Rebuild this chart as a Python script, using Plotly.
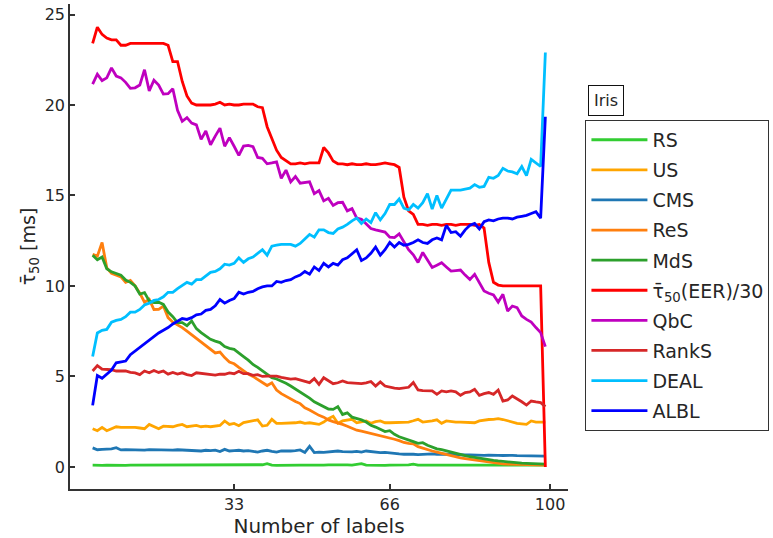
import plotly.graph_objects as go

n_labels = list(range(3, 100))

rs = [0.1, 0.08, 0.09, 0.1, 0.09, 0.1, 0.1, 0.09, 0.1, 0.1,
      0.09, 0.1, 0.1, 0.09, 0.1, 0.1, 0.1, 0.09, 0.1, 0.1,
      0.09, 0.1, 0.1, 0.1, 0.11, 0.1, 0.09, 0.1, 0.1, 0.1,
      0.09, 0.1, 0.1, 0.1, 0.11, 0.1, 0.12, 0.18, 0.1, 0.09,
      0.1, 0.1, 0.1, 0.11, 0.1, 0.1, 0.09, 0.1, 0.1, 0.1,
      0.11, 0.12, 0.1, 0.1, 0.11, 0.1, 0.14, 0.18, 0.1, 0.09,
      0.1, 0.1, 0.09, 0.1, 0.1, 0.1, 0.1, 0.11, 0.15, 0.1,
      0.1, 0.09, 0.1, 0.1, 0.1, 0.1, 0.09, 0.1, 0.1, 0.1,
      0.1, 0.1, 0.1, 0.09, 0.1, 0.1, 0.1, 0.1, 0.1, 0.1,
      0.09, 0.1, 0.1, 0.1, 0.1, 0.1, 0.1]

us = [2.11, 2.0, 2.18, 2.0, 2.11, 2.22, 2.18, 2.18, 2.22, 2.18,
      2.15, 2.11, 2.35, 2.22, 2.11, 2.25, 2.25, 2.22, 2.29, 2.35,
      2.22, 2.25, 2.29, 2.22, 2.25, 2.22, 2.25, 2.29, 2.54, 2.35,
      2.4, 2.28, 2.45, 2.5, 2.55, 2.6, 2.26, 2.3, 2.63, 2.41,
      2.41, 2.41, 2.44, 2.44, 2.48, 2.41, 2.44, 2.4, 2.35, 2.48,
      2.67, 2.8, 2.41, 2.54, 2.58, 2.63, 2.44, 2.5, 2.54, 2.41,
      2.5, 2.54, 2.44, 2.44, 2.46, 2.44, 2.48, 2.48, 2.55, 2.63,
      2.48, 2.5, 2.54, 2.6, 2.41, 2.54, 2.5, 2.48, 2.48, 2.48,
      2.46, 2.44, 2.54, 2.6, 2.62, 2.63, 2.67, 2.62, 2.54, 2.48,
      2.41, 2.38, 2.35, 2.54, 2.48, 2.48, 2.48]

cms = [1.05, 0.95, 0.97, 0.97, 1.0, 1.06, 0.94, 0.96, 0.95, 0.97,
       0.95, 0.93, 0.96, 0.95, 0.94, 0.96, 0.95, 0.93, 0.95, 0.94,
       0.92, 0.9, 0.93, 0.88, 0.92, 0.9, 0.93, 0.85, 0.97, 0.88,
       0.9, 0.92, 0.88, 0.9, 0.86, 0.82, 0.88, 0.92, 0.86, 0.82,
       0.88, 0.86, 0.88, 0.9, 0.94, 0.8, 1.14, 0.79, 0.82, 0.8,
       0.82, 0.85, 0.88, 0.84, 0.82, 0.83, 0.86, 0.82, 0.88, 0.84,
       0.8, 0.79, 0.8, 0.76, 0.75, 0.72, 0.7, 0.72, 0.7, 0.68,
       0.7, 0.7, 0.72, 0.7, 0.68, 0.7, 0.69, 0.67, 0.65, 0.66,
       0.67, 0.65, 0.66, 0.64, 0.65, 0.66, 0.64, 0.63, 0.65, 0.64,
       0.62, 0.61, 0.62, 0.6, 0.61, 0.6, 0.6]

res = [11.75, 11.65, 12.4, 11.0, 10.7, 10.62, 10.5, 10.2, 10.3, 10.0,
       9.6, 9.1, 9.26, 8.7, 8.71, 8.89, 8.25, 8.0, 7.85, 7.7,
       7.5, 7.3, 7.1, 6.85, 6.7, 6.5, 6.3, 6.35, 6.04, 5.8,
       5.7, 5.5, 5.3, 5.13, 5.0, 4.84, 4.7, 4.5, 4.65, 4.25,
       4.05, 3.9, 3.75, 3.62, 3.5, 3.27, 3.15, 3.0, 2.85, 2.75,
       2.6, 2.5, 2.44, 2.35, 2.25, 2.12, 2.03, 1.98, 1.92, 1.85,
       1.8, 1.75, 1.68, 1.6, 1.53, 1.45, 1.35, 1.3, 1.28, 1.12,
       1.03, 0.95, 0.88, 0.82, 0.75, 0.68, 0.62, 0.56, 0.5, 0.46,
       0.42, 0.38, 0.34, 0.3, 0.25, 0.22, 0.19, 0.17, 0.15, 0.14,
       0.12, 0.11, 0.1, 0.1, 0.1, 0.1, 0.1]

mds = [11.7, 11.45, 11.6, 10.95, 10.78, 10.7, 10.6, 10.33, 10.2, 10.0,
       9.55, 9.63, 9.17, 9.08, 9.1, 8.98, 8.56, 8.3, 7.97, 7.97,
       7.8, 8.06, 7.64, 7.42, 7.24, 7.05, 6.95, 6.87, 6.65, 6.55,
       6.5, 6.32, 6.1, 5.9, 5.66, 5.5, 5.3, 5.1, 4.93, 4.86,
       4.75, 4.62, 4.47, 4.3, 4.15, 4.01, 3.8, 3.6, 3.46, 3.3,
       3.2, 3.18, 3.33, 2.9, 2.99, 2.75, 2.68, 2.6, 2.48, 2.3,
       2.2, 2.08, 1.95, 2.0, 1.8, 1.67, 1.58, 1.53, 1.4, 1.3,
       1.34, 1.2, 1.08, 1.0, 0.95, 0.88, 0.8, 0.74, 0.68, 0.62,
       0.57, 0.52, 0.48, 0.44, 0.4, 0.36, 0.33, 0.3, 0.28, 0.25,
       0.23, 0.21, 0.2, 0.19, 0.18, 0.16, 0.15]

eer30 = [23.4, 24.3, 23.9, 23.7, 23.6, 23.6, 23.3, 23.3, 23.4, 23.4,
         23.4, 23.4, 23.4, 23.4, 23.4, 23.4, 23.3, 22.4, 22.4, 21.3,
         20.5, 20.1, 20.0, 20.0, 20.0, 20.0, 20.05, 20.15, 20.0, 20.05,
         20.0, 20.0, 20.05, 20.05, 20.05, 19.9, 19.85, 18.8, 18.1, 17.5,
         17.1, 16.9, 16.75, 16.75, 16.8, 16.75, 16.8, 16.8, 16.8, 17.65,
         17.35, 16.9, 16.75, 16.75, 16.7, 16.75, 16.7, 16.7, 16.75, 16.7,
         16.7, 16.75, 16.8, 16.75, 16.7, 16.55, 14.9, 14.15, 13.95, 13.4,
         13.4, 13.35, 13.4, 13.4, 13.35, 13.4, 13.4, 13.35, 13.4, 13.4,
         13.4, 13.35, 13.4, 13.2, 11.3, 10.2, 10.05, 10.0, 10.0, 10.0,
         10.0, 10.0, 10.0, 10.0, 10.0, 10.0, 0.0]

qbc = [21.15, 21.7, 21.35, 21.5, 22.05, 21.6, 21.5, 21.25, 20.92, 20.95,
       21.1, 21.95, 20.78, 21.37, 21.1, 20.6, 20.62, 20.9, 19.7, 19.1,
       19.3, 19.0, 18.9, 18.1, 18.56, 17.8, 18.28, 18.72, 17.72, 18.2,
       17.72, 17.22, 17.73, 17.77, 17.7, 17.1, 17.05, 16.75, 16.8, 16.86,
       15.95, 16.4, 15.75, 16.05, 15.68, 15.7, 15.75, 15.1, 15.27, 14.7,
       14.84, 14.45, 14.6, 14.62, 14.15, 14.27, 13.75, 13.68, 13.45, 13.17,
       13.1, 13.05, 12.98, 12.7, 12.67, 12.88, 12.4, 12.0, 11.72, 11.3,
       11.85, 11.4, 11.02, 11.15, 11.28, 11.05, 10.82, 10.85, 10.88, 10.6,
       10.36, 10.64, 10.2, 9.72, 9.6, 9.5, 9.11, 9.54, 8.61, 8.89,
       8.8, 8.34, 8.15, 8.0, 7.7, 7.42, 6.65]

ranks = [5.3, 5.6, 5.4, 5.4, 5.37, 5.3, 5.3, 5.3, 5.22, 5.2,
         5.1, 5.3, 5.2, 5.33, 5.22, 5.3, 5.13, 5.22, 5.13, 5.2,
         5.1, 5.05, 5.2, 5.17, 5.1, 5.07, 5.07, 5.13, 5.12, 5.2,
         5.15, 5.28, 5.15, 5.15, 5.06, 5.1, 5.0, 5.02, 5.0, 5.02,
         4.95, 4.92, 4.85, 4.88, 4.82, 4.75, 4.66, 4.88, 4.56, 4.93,
         4.75, 4.6, 4.65, 4.75, 4.66, 4.65, 4.62, 4.6, 4.65, 4.72,
         4.47, 4.7, 4.47, 4.4, 4.35, 4.33, 4.35, 4.4, 4.66, 4.25,
         4.22, 4.2, 4.2, 4.01, 4.2, 4.15, 4.2, 4.15, 3.96, 4.11,
         4.14, 4.29, 3.96, 4.05, 4.11, 4.01, 4.25, 3.64, 3.7, 3.92,
         3.77, 3.6, 3.42, 3.64, 3.59, 3.55, 3.33]

deal = [6.1, 7.4, 7.55, 7.6, 8.0, 8.1, 8.15, 8.3, 8.55, 8.55,
        8.7, 8.95, 9.05, 9.2, 9.25, 9.4, 9.65, 9.65, 9.85, 10.05,
        10.2, 10.1, 10.35, 10.35, 10.55, 10.75, 10.8, 10.95, 11.2, 11.15,
        11.25, 11.55, 11.3, 11.5, 11.6, 11.8, 12.0, 11.7, 12.2, 12.25,
        12.3, 12.3, 12.3, 12.2, 12.35, 12.6, 12.85, 12.7, 13.1, 13.1,
        12.95, 12.9, 13.15, 13.25, 13.4, 13.6, 13.75, 13.45, 13.7, 13.5,
        14.05, 13.65, 14.0, 14.5, 14.5, 14.8, 14.3, 14.2, 14.5, 14.3,
        14.6, 15.1, 14.25, 15.0, 14.3, 14.8, 15.3, 15.3, 15.3, 15.35,
        15.4, 15.6, 15.45, 15.5, 16.0, 15.95, 16.1, 16.5, 16.35, 16.3,
        16.2, 16.6, 16.1, 17.0, 16.8, 16.6, 22.9]

albl = [3.4, 5.05, 4.9, 5.15, 5.35, 5.75, 5.8, 5.85, 6.2, 6.4,
        6.65, 6.85, 7.05, 7.2, 7.4, 7.55, 7.7, 7.9, 8.05, 8.2,
        8.15, 8.25, 8.4, 8.45, 8.65, 8.7, 8.9, 9.25, 9.05, 9.2,
        9.3, 9.65, 9.55, 9.65, 9.7, 9.85, 9.95, 10.0, 10.0, 10.25,
        10.2, 10.3, 10.35, 10.5, 10.6, 10.8, 10.65, 11.05, 10.85, 11.25,
        11.05, 11.25, 11.15, 11.45, 11.55, 11.8, 12.0, 11.4, 11.55, 11.8,
        12.15, 11.7, 12.0, 12.4, 12.15, 12.4, 12.25, 12.3, 12.4, 12.55,
        12.4, 12.35, 12.55, 12.65, 12.55, 13.35, 12.95, 13.0, 12.75, 13.1,
        13.35, 13.45, 13.15, 13.55, 13.65, 13.6, 13.7, 13.75, 13.75, 13.7,
        13.8, 13.85, 13.9, 14.0, 14.1, 13.75, 19.35]

series_names = ["RS", "US", "CMS", "ReS", "MdS", "τ̄<sub>50</sub>(EER)/30",
                "QbC", "RankS", "DEAL", "ALBL"]
series_values = [rs, us, cms, res, mds, eer30, qbc, ranks, deal, albl]
series_colors = ["#32cd32", "#ffa500", "#1f77b4", "#ff7f0e", "#2ca02c",
                 "#ff0000", "#bf00bf", "#d62728", "#00bfff", "#0000ff"]

x_ticks = [33, 66, 100]
y_ticks = [0, 5, 10, 15, 20, 25]

for v in series_values:
    assert len(v) == len(n_labels), len(v)

FONT = "DejaVu Sans"
fig = go.Figure()
for i, (name, vals, col) in enumerate(zip(series_names, series_values, series_colors)):
    fig.add_trace(go.Scatter(x=n_labels, y=vals, mode="lines", name=name,
                             legendgroup=f"g{i}",
                             line=dict(color=col, width=2.8)))

axis_common = dict(showgrid=False, zeroline=False, showline=True,
                   linecolor="#333333", linewidth=1.5, ticks="inside",
                   ticklen=5, tickwidth=1.5, tickcolor="#333333",
                   tickfont=dict(family=FONT, size=16, color="#262626"))

fig.update_layout(
    width=773, height=538,
    margin=dict(l=70, r=205, t=4, b=49, autoexpand=False),
    paper_bgcolor="white", plot_bgcolor="white",
    font=dict(family=FONT, color="#262626"),
    xaxis=dict(range=[-1.8, 103.8], tickvals=x_ticks,
               title=dict(text="Number of labels", font=dict(family=FONT, size=20), standoff=2),
               **axis_common),
    yaxis=dict(range=[-1.22, 25.58], tickvals=y_ticks,
               title=dict(text="τ̄<sub>50</sub> [ms]", font=dict(family=FONT, size=19), standoff=4),
               **axis_common),
    legend=dict(x=1.035, y=0.761, xanchor="left", yanchor="top",
                bordercolor="#333333", borderwidth=1, bgcolor="white",
                font=dict(family=FONT, size=19, color="#262626"),
                tracegroupgap=2.4, itemwidth=56),
    showlegend=True,
)

fig.add_annotation(xref="paper", yref="paper", x=1.077, y=0.801,
                   text="Iris", showarrow=False, xanchor="center", yanchor="middle",
                   font=dict(family=FONT, size=16, color="#262626"),
                   bordercolor="#111111", borderwidth=1, borderpad=5, bgcolor="white")

fig.write_html("out.html")
